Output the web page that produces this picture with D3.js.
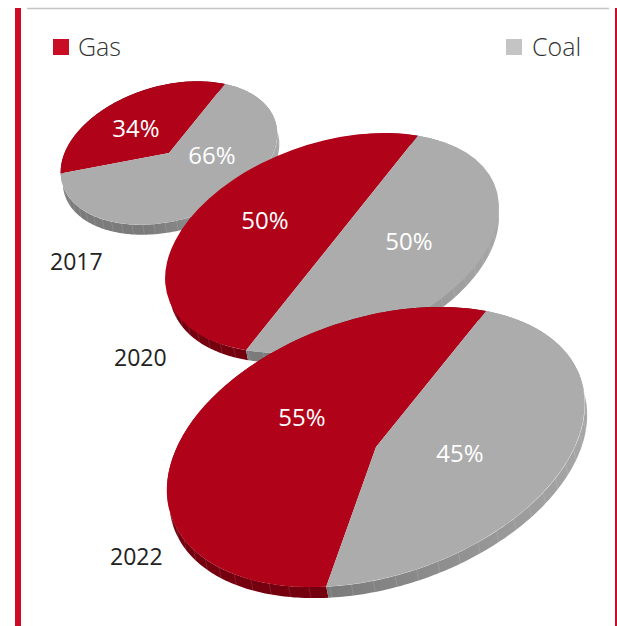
<!DOCTYPE html>
<html lang="en">
<head>
  <meta charset="UTF-8">
  <title>Gas and coal share</title>
  <style>
    html, body { margin: 0; padding: 0; background: #fff; }
    svg { display: block; }
    text { font-family: "Open Sans", "Noto Sans", sans-serif; }
    .pct { fill: #fff; font-size: 24px; text-anchor: middle; }
    .year { fill: #222; font-size: 23px; }
    .legend { fill: #333; font-size: 25px; font-weight: 300; }
  </style>
</head>
<body>
  <svg id="chart" width="617" height="626"></svg>

  <script src="https://d3js.org/d3.v7.min.js"></script>
  <script>
    // Data
    const categories = ['Gas', 'Coal'];
    const years = ['2017', '2020', '2022'];
    const gasShare = [34, 50, 55];
    const coalShare = [66, 50, 45];

    // Layout of each tilted disc (screen pixels, degrees)
    const discs = [
      { cx: 169, cy: 153, a: 111, b: 67.5, tilt: 16, end: 41, depth: 10,
        yearX: 50, yearY: 270, gasLabel: [-33, -16], coalLabel: [43, 11] },
      { cx: 332, cy: 243, a: 171, b: 100, tilt: 19, end: 42.8, depth: 10,
        yearX: 114, yearY: 366, gasLabel: [-67, -14], coalLabel: [77, 7] },
      { cx: 376, cy: 447, a: 216, b: 129, tilt: 18.4, end: 43, depth: 11,
        yearX: 110, yearY: 565, gasLabel: [-74, -21], coalLabel: [84, 15] }
    ];

    const colors = {
      Gas: '#b00319', Coal: '#acacac',
      gasSwatch: '#c80d24', coalSwatch: '#c4c4c4', frame: '#cf0a26', rule: '#c4c4c4'
    };

    const svg = d3.select('#chart');
    const rad = Math.PI / 180;

    // Frame
    svg.append('rect').attr('x', 15).attr('y', 8).attr('width', 6).attr('height', 618).attr('fill', colors.frame);
    svg.append('rect').attr('x', 615).attr('y', 8).attr('width', 2).attr('height', 618).attr('fill', colors.frame);
    svg.append('line').attr('x1', 27).attr('x2', 609).attr('y1', 8.5).attr('y2', 8.5)
      .attr('stroke', colors.rule).attr('stroke-width', 1.5);

    // Legend
    const legendX = [53, 506];
    categories.forEach((c, i) => {
      svg.append('rect').attr('x', legendX[i]).attr('y', 39).attr('width', 16).attr('height', 16)
        .attr('fill', i === 0 ? colors.gasSwatch : colors.coalSwatch);
      svg.append('text').attr('class', 'legend').attr('x', legendX[i] + 25 + i).attr('y', 56).text(c);
    });

    // Side shading, lighter towards the right
    const defs = svg.append('defs');
    function sideGradient(id, left, right, d) {
      const g = defs.append('linearGradient').attr('id', id)
        .attr('gradientUnits', 'userSpaceOnUse')
        .attr('x1', d.cx - d.a * 0.2).attr('x2', d.cx + d.a).attr('y1', 0).attr('y2', 0);
      g.append('stop').attr('offset', 0).attr('stop-color', left);
      g.append('stop').attr('offset', 1).attr('stop-color', right);
    }

    const arc = d3.arc().innerRadius(0).outerRadius(1);
    const line = d3.line();

    years.forEach((year, i) => {
      const d = discs[i];
      const values = [gasShare[i], coalShare[i]];
      // gas ends at d.end, so the pie starts one gas share before it
      const start = d.end * rad - values[0] / d3.sum(values) * 2 * Math.PI;
      const pie = d3.pie().sort(null).startAngle(start).endAngle(start + 2 * Math.PI);
      const slices = pie(values);

      const cosT = Math.cos(d.tilt * rad), sinT = Math.sin(d.tilt * rad);
      // the rim is pushed down and a little to the right
      const project = (angle, depth) => {
        const x = d.a * Math.sin(angle), y = -d.b * Math.cos(angle);
        return [d.cx + x * cosT + y * sinT + depth * 0.2, d.cy - x * sinT + y * cosT + depth];
      };

      sideGradient('side-gas-' + i, '#74000f', '#74000f', d);
      sideGradient('side-coal-' + i, '#7b7b7b', '#a8a8a8', d);

      const g = svg.append('g').attr('class', 'disc-' + year);

      // extruded rim
      slices.forEach((s, k) => {
        const steps = d3.range(s.startAngle, s.endAngle, rad).concat([s.endAngle]);
        const top = steps.map(t => project(t, 0));
        const bottom = steps.map(t => project(t, d.depth)).reverse();
        g.append('path').attr('d', line(top.concat(bottom)) + 'Z')
          .attr('fill', `url(#side-${k === 0 ? 'gas' : 'coal'}-${i})`);
      });

      // seams on the rim
      g.selectAll('line.seam').data(d3.range(0, 360, 6)).enter().append('line')
        .attr('class', 'seam')
        .attr('x1', t => project(t * rad, 0)[0]).attr('y1', t => project(t * rad, 0)[1])
        .attr('x2', t => project(t * rad, d.depth)[0]).attr('y2', t => project(t * rad, d.depth)[1])
        .attr('stroke', '#fff').attr('stroke-opacity', 0.2).attr('stroke-width', 0.6);

      // top face
      g.append('g')
        .attr('transform', `translate(${d.cx},${d.cy}) rotate(${-d.tilt}) scale(${d.a},${d.b})`)
        .selectAll('path').data(slices).enter().append('path')
        .attr('d', arc)
        .attr('fill', (s, k) => colors[categories[k]]);

      g.append('text').attr('class', 'pct')
        .attr('x', d.cx + d.gasLabel[0]).attr('y', d.cy + d.gasLabel[1])
        .text(values[0] + '%');
      g.append('text').attr('class', 'pct')
        .attr('x', d.cx + d.coalLabel[0]).attr('y', d.cy + d.coalLabel[1])
        .text(values[1] + '%');
      g.append('text').attr('class', 'year').attr('x', d.yearX).attr('y', d.yearY).text(year);
    });
  </script>
</body>
</html>
